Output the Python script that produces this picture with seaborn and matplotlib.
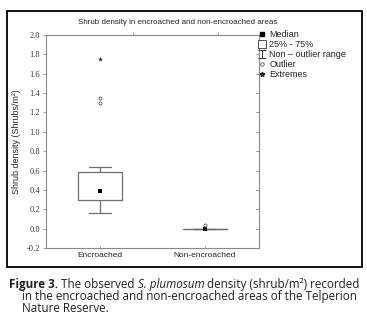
import numpy as np
import pandas as pd
import matplotlib
matplotlib.use("Agg")
import matplotlib.pyplot as plt
from matplotlib.path import Path
from matplotlib.lines import Line2D
from matplotlib.patches import Rectangle
import seaborn as sns

# ---- data ----
categories = ["Encroached", "Non-encroached"]
medians = [0.39, 0.0]
q1 = [0.30, 0.0]
q3 = [0.585, 0.0]
whisker_low = [0.16, 0.0]
whisker_high = [0.635, 0.0]
outliers = [[1.30, 1.35], [0.04]]
extremes = [[1.75], []]
yticks = [-0.2, 0.0, 0.2, 0.4, 0.6, 0.8, 1.0, 1.2, 1.4, 1.6, 1.8, 2.0]
legend_labels = ["Median", "25% - 75%", "Non \u2013 outlier range", "Outlier", "Extremes"]

sns.set_style("white")
plt.rcParams["font.family"] = ["Liberation Sans", "DejaVu Sans"]

fig = plt.figure(figsize=(3.67, 3.29), dpi=100)
ax = fig.add_axes([46/367, 1-248/329, 213/367, 213/329])

positions = list(range(len(categories)))
stats = [dict(med=m, q1=a, q3=b, whislo=lo, whishi=hi, fliers=[])
         for m, a, b, lo, hi in zip(medians, q1, q3, whisker_low, whisker_high)]
gray = "#6e6e6e"
ax.bxp(stats, positions=positions, widths=0.42, capwidths=0.21,
       boxprops=dict(color=gray, lw=0.9), whiskerprops=dict(color=gray, lw=0.9),
       capprops=dict(color=gray, lw=0.9), medianprops=dict(lw=0),
       showfliers=False, manage_ticks=False)

med_df = pd.DataFrame({"x": positions, "y": medians})
sns.scatterplot(data=med_df, x="x", y="y", marker="s", color="black", s=12,
                linewidth=0, ax=ax, legend=False, zorder=5)
out_df = pd.DataFrame({"x": [p for p, o in zip(positions, outliers) for _ in o],
                       "y": [v for o in outliers for v in o]})
sns.scatterplot(data=out_df, x="x", y="y", marker="o", facecolor="white",
                edgecolor="#555555", s=5, linewidth=0.6, ax=ax, legend=False, zorder=5)
ext_df = pd.DataFrame({"x": [p for p, e in zip(positions, extremes) for _ in e],
                       "y": [v for e in extremes for v in e]})
sns.scatterplot(data=ext_df, x="x", y="y", marker="*", color="#222222", s=14,
                linewidth=0, ax=ax, legend=False, zorder=5)

ax.set_xlim(-0.515, 1.515)
ax.set_ylim(-0.2, 2.0)
ax.set_xticks(positions)
ax.set_xticklabels(categories, fontsize=6, color="#222222")
ax.set_yticks(yticks)
ax.set_yticklabels([f"{v:.1f}" for v in yticks], fontsize=6,
                   family=["Liberation Serif"], color="#333333")
ax.set_xlabel("")
ax.set_ylabel("Shrub density (Shrubs/m\u00b2)", fontsize=6.4, color="#222222", labelpad=4)
for s in ax.spines.values():
    s.set_color("#888888")
    s.set_linewidth(0.8)
ax.tick_params(axis="y", left=True, right=False, direction="out", length=2.5,
               width=0.6, color="#888888", pad=2)
ax.tick_params(axis="x", bottom=True, direction="in", length=1.5, width=0.6,
               color="#888888", pad=3)
# right inner ticks
for v in yticks:
    ax.plot([1.0, 0.985], [v, v], transform=ax.get_yaxis_transform(), color="#888888",
            lw=0.6, clip_on=False)
sec = ax.secondary_xaxis("top")
sec.set_xticks([0.31, 1.12])
sec.set_xticklabels([])
sec.tick_params(direction="out", length=2, width=0.6, color="#888888")
sec.spines["top"].set_visible(False)

fig.text(178/367, 1-23/329, "Shrub density in encroached and non-encroached areas",
         ha="center", va="center", fontsize=5.8, color="#222222")

# legend
ivert = [(-1, 1), (1, 1), (0, 1), (0, -1), (-1, -1), (1, -1)]
icodes = [Path.MOVETO, Path.LINETO, Path.MOVETO, Path.LINETO, Path.MOVETO, Path.LINETO]
i_marker = Path(ivert, icodes)
handles = [
    Line2D([], [], ls="", marker="s", color="black", markersize=2.6),
    Line2D([], [], ls="", marker="s", markerfacecolor="white", markeredgecolor="#333333",
           markersize=5.2, markeredgewidth=0.6),
    Line2D([], [], ls="", marker=i_marker, color="#333333", markersize=5.5,
           markeredgewidth=0.7),
    Line2D([], [], ls="", marker="o", markerfacecolor="white", markeredgecolor="#555555",
           markersize=2.5, markeredgewidth=0.6),
    Line2D([], [], ls="", marker="*", color="#222222", markersize=3.5),
]
fig.legend(handles, legend_labels, loc="upper left", bbox_to_anchor=(258/367, 1-30/329),
           frameon=False, fontsize=6.5, handlelength=0.8, handletextpad=0.45,
           labelspacing=0.12, borderaxespad=0, borderpad=0, labelcolor="#222222")

# frame
fig.patches.append(Rectangle((7/367, 1-267/329), 355/367, 256/329, transform=fig.transFigure,
                             fill=False, edgecolor="black", lw=1.3, zorder=10))

# caption
cap_color = "#231f20"
fs = 8.35
renderer = fig.canvas.get_renderer()
def put(x, y, s, **kw):
    t = fig.text(x, y, s, fontsize=fs, color=cap_color, va="baseline",
                 family=["Open Sans", "DejaVu Sans"], **kw)
    bb = t.get_window_extent(renderer=renderer)
    return x + bb.width / fig.bbox.width
y1 = 1 - 288/329
x = 9/367
x = put(x, y1, "Figure 3.", weight="bold")
x = put(x, y1, " The observed ")
x = put(x, y1, "S. plumosum", style="italic")
x = put(x, y1, " density (shrub/m\u00b2) recorded")
put(22/367, 1 - 300/329, "in the encroached and non-encroached areas of the Telperion")
put(22/367, 1 - 312/329, "Nature Reserve.")

fig.savefig("out.png", dpi=100)
